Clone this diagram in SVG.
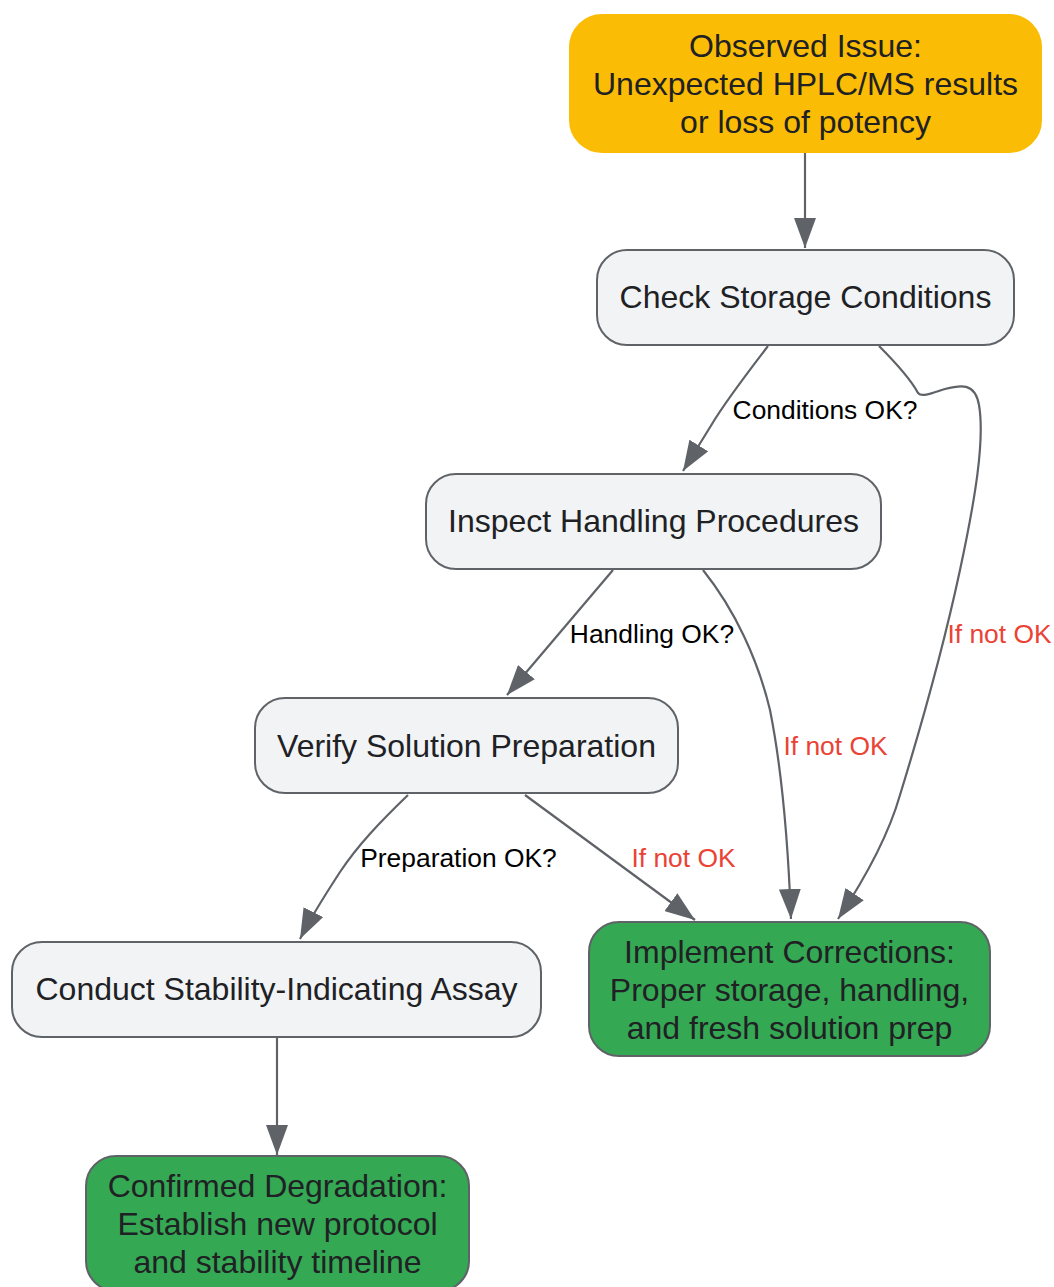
<svg xmlns="http://www.w3.org/2000/svg" width="1054" height="1287" viewBox="0 0 1054 1287">
<defs>
<marker id="arrow" markerUnits="userSpaceOnUse" viewBox="0 0 30 22" refX="30" refY="11" markerWidth="30" markerHeight="22" orient="auto">
<path d="M0,0 L30,11 L0,22 z" fill="#5f6368"/>
</marker>
</defs>
<style>
.node rect{stroke:#5f6368;stroke-width:2}
.gray rect{fill:#f1f3f4}
.green rect{fill:#34a853}
.yellow rect{fill:#fbbc05;stroke:#fbbc05}
.node text{font-family:"Liberation Sans",Arial,sans-serif;font-size:32px;fill:#202124;text-anchor:middle}
.edges path{fill:none;stroke:#5f6368;stroke-width:2.2;marker-end:url(#arrow)}
.lbl{font-family:"Liberation Sans",Arial,sans-serif;font-size:26.4px;text-anchor:middle}
.ok{fill:#000000}
.notok{fill:#ea4335}
</style>
<rect width="1054" height="1287" fill="#ffffff"/>
<g id="edges" class="edges">
<path d="M805,152 L805,248"/>
<path d="M768,346 C745,376 725,402 712,424 C706,434 696,450 683,471"/>
<path d="M879,346 C895,362 910,378 918,393 C922,398 935,392 945,389 C960,385 975,382 979,405 C985,440 975,500 960,570 C945,640 920,730 900,795 C890,830 872,868 838,919"/>
<path d="M613,570 L507,695"/>
<path d="M703,570 C735,610 758,660 770,710 C782,770 788,840 791,919"/>
<path d="M408,795 C380,822 358,845 340,872 C325,895 312,915 300,939"/>
<path d="M525,795 L695,920"/>
<path d="M277,1037 L277,1155"/>
</g>
<g id="edge-labels">
<text class="lbl ok" x="825" y="419">Conditions OK?</text>
<text class="lbl ok" x="652" y="643">Handling OK?</text>
<text class="lbl ok" x="458.5" y="867">Preparation OK?</text>
<text class="lbl notok" x="999.5" y="643">If not OK</text>
<text class="lbl notok" x="835.5" y="755">If not OK</text>
<text class="lbl notok" x="683.5" y="867">If not OK</text>
</g>
<g id="observed" class="node yellow">
<rect x="570" y="15" width="471" height="137" rx="32" ry="32"/>
<text x="805.5" y="57">Observed Issue:</text>
<text x="805.5" y="95">Unexpected HPLC/MS results</text>
<text x="805.5" y="133">or loss of potency</text>
</g>
<g id="storage" class="node gray">
<rect x="597" y="250" width="417" height="95" rx="30" ry="30"/>
<text x="805.5" y="308">Check Storage Conditions</text>
</g>
<g id="handling" class="node gray">
<rect x="426" y="474" width="455" height="95" rx="30" ry="30"/>
<text x="653.5" y="532">Inspect Handling Procedures</text>
</g>
<g id="preparation" class="node gray">
<rect x="255" y="698" width="423" height="95" rx="30" ry="30"/>
<text x="466.5" y="757">Verify Solution Preparation</text>
</g>
<g id="assay" class="node gray">
<rect x="12" y="942" width="529" height="95" rx="30" ry="30"/>
<text x="276.5" y="1000">Conduct Stability-Indicating Assay</text>
</g>
<g id="corrections" class="node green">
<rect x="589" y="922" width="401" height="134" rx="30" ry="30"/>
<text x="789.5" y="963">Implement Corrections:</text>
<text x="789.5" y="1001">Proper storage, handling,</text>
<text x="789.5" y="1039">and fresh solution prep</text>
</g>
<g id="confirmed" class="node green">
<rect x="86" y="1156" width="383" height="135" rx="30" ry="30"/>
<text x="277.5" y="1197">Confirmed Degradation:</text>
<text x="277.5" y="1235">Establish new protocol</text>
<text x="277.5" y="1273">and stability timeline</text>
</g>
</svg>
